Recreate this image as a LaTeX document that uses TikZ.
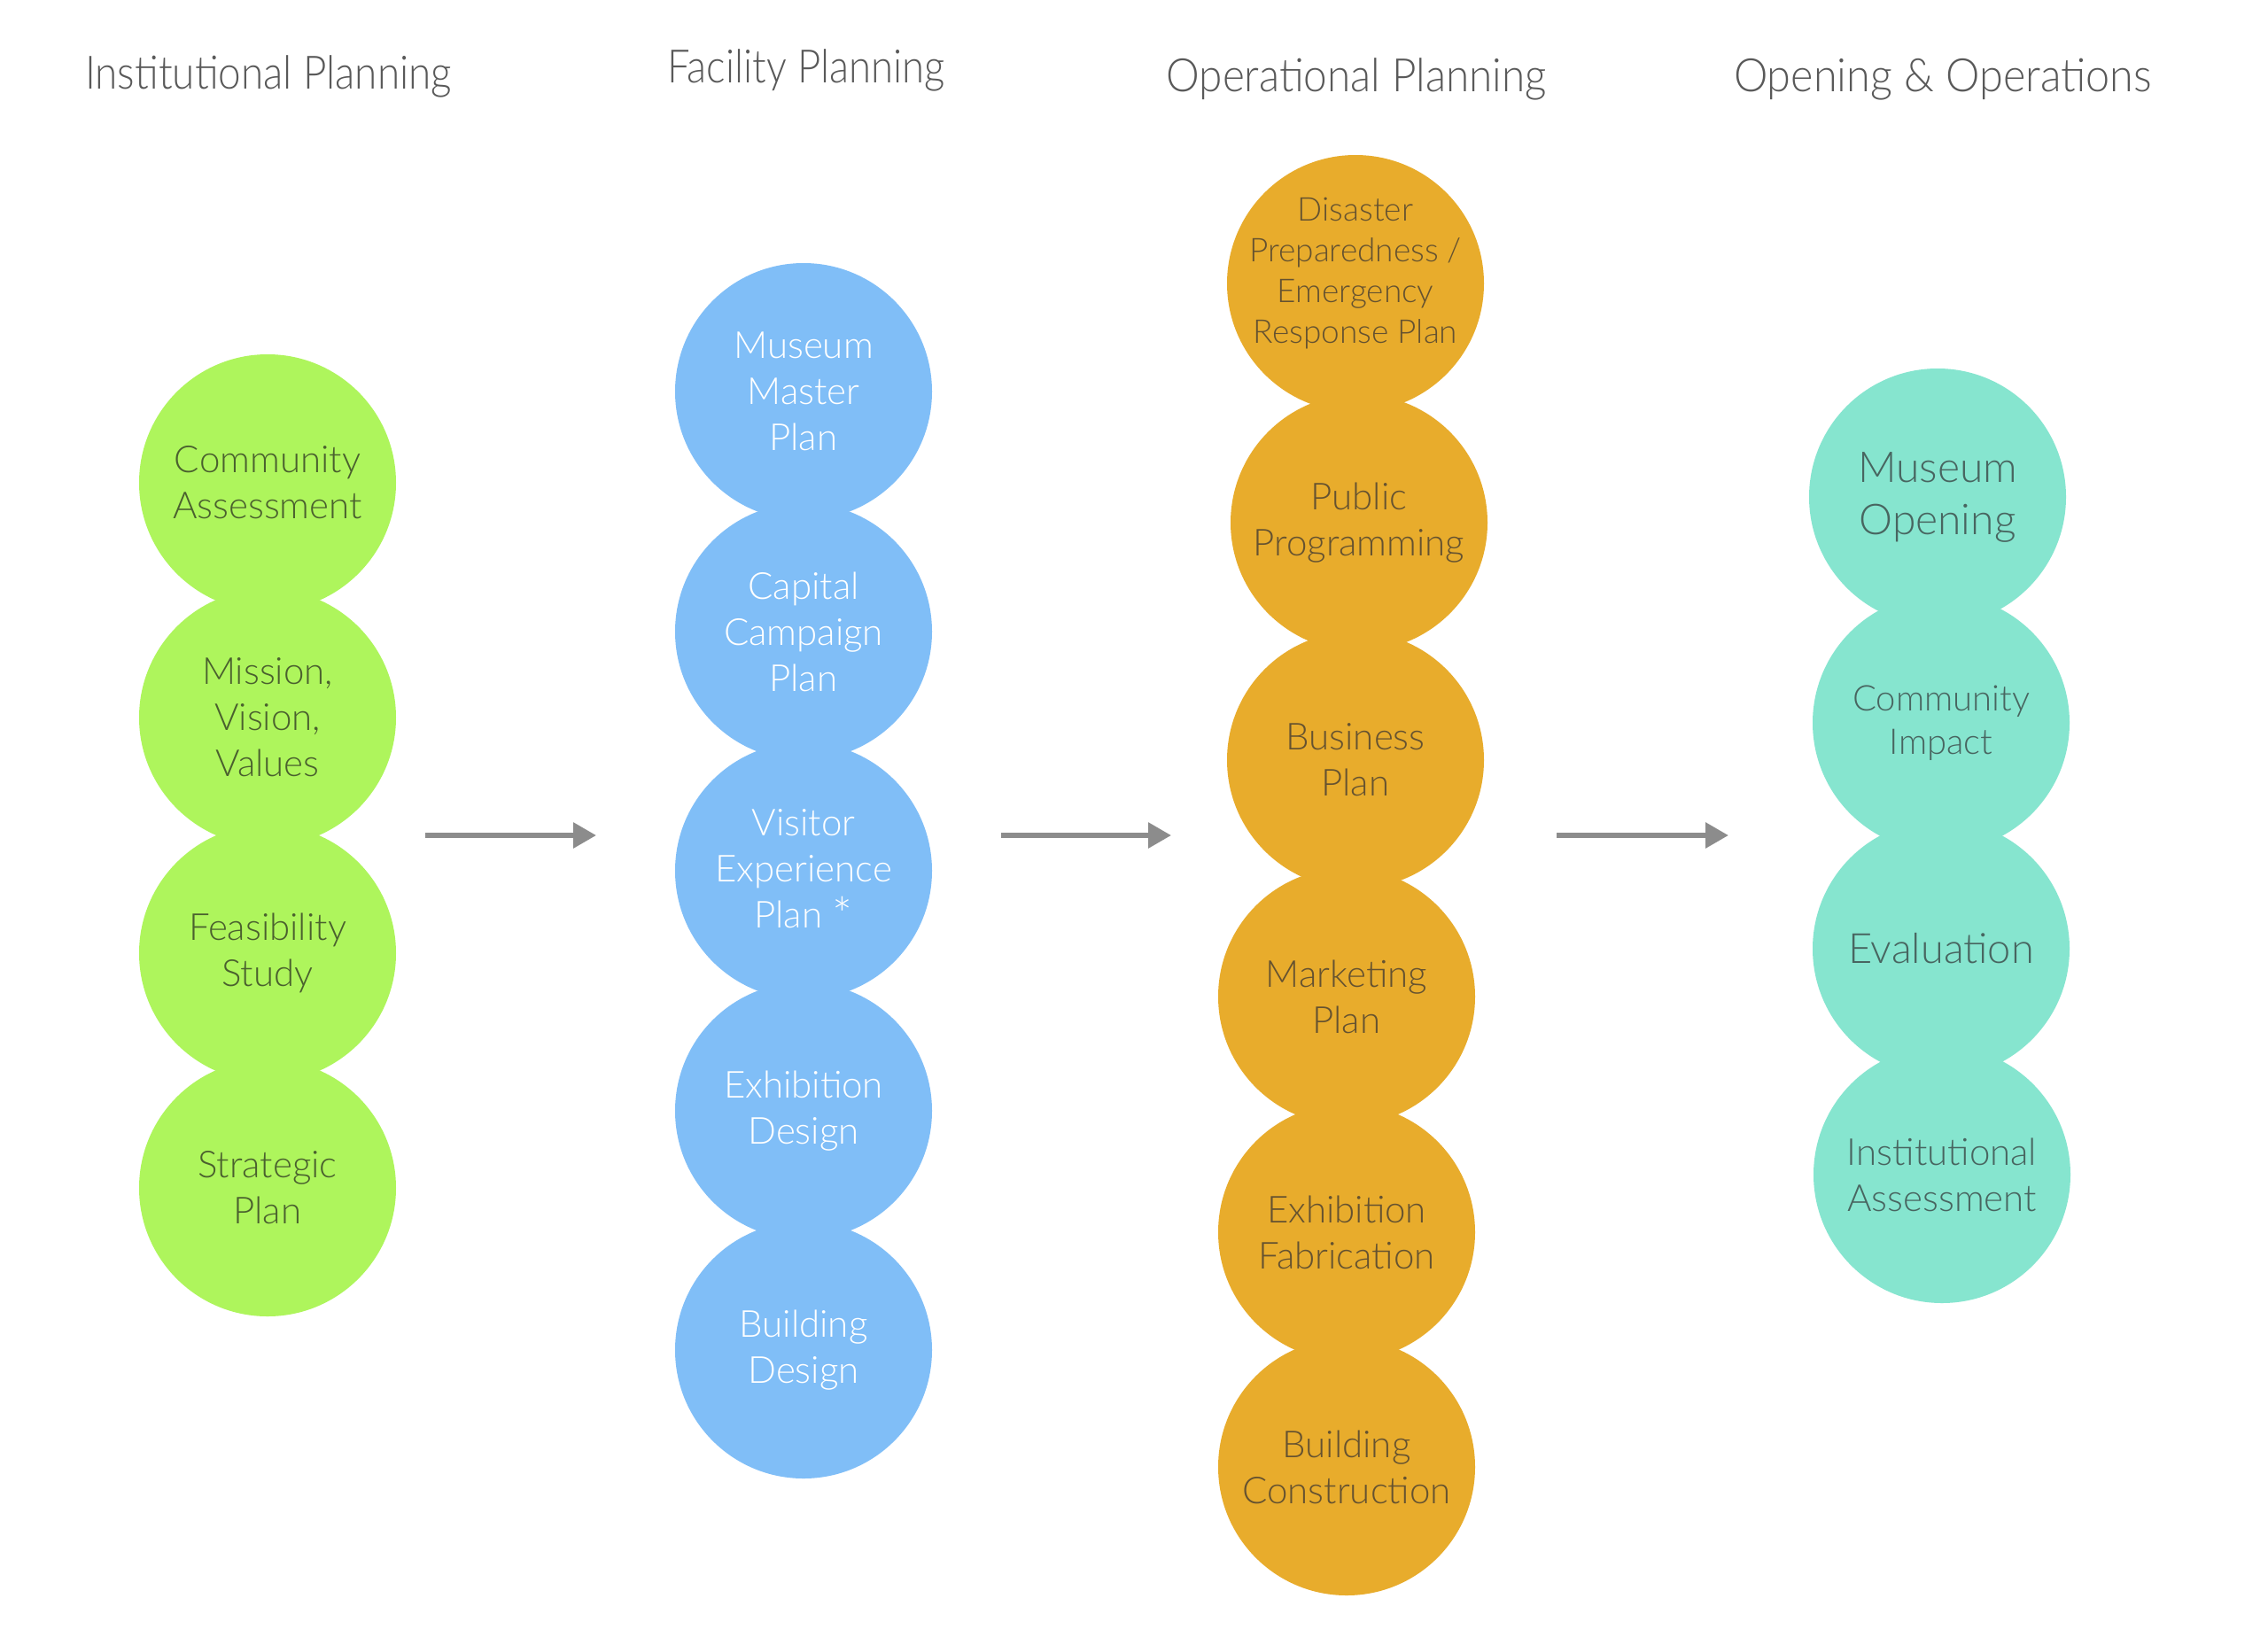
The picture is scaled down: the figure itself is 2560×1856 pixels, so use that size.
\documentclass[tikz,border=0pt]{standalone}
\usepackage{fontspec}
\usepackage{graphicx}
\setmainfont{Lato Light}
\usetikzlibrary{arrows.meta}
\definecolor{gfill}{HTML}{AEF55C}
\definecolor{gtext}{HTML}{4A602E}
\definecolor{bfill}{HTML}{80BEF7}
\definecolor{ofill}{HTML}{E8AC2C}
\definecolor{otext}{HTML}{655230}
\definecolor{tfill}{HTML}{86E5CF}
\definecolor{ttext}{HTML}{486560}
\definecolor{titlec}{HTML}{595959}
\definecolor{arrowc}{HTML}{8C8C8C}
\tikzset{
  bubble/.style={circle, minimum size=290pt, inner sep=0pt, align=center,
    font=\fontsize{42}{52}\selectfont},
  gbub/.style={bubble, fill=gfill, text=gtext},
  bbub/.style={bubble, fill=bfill, text=white},
  obub/.style={bubble, fill=ofill, text=otext},
  tbub/.style={bubble, fill=tfill, text=ttext},
  otxt/.style={inner sep=0pt, align=center, text=otext},
  phase/.style={anchor=base, text=titlec, inner sep=0pt, font=\fontsize{52}{60}\selectfont},
  flow/.style={draw=arrowc, line width=6pt, -{Triangle[length=26pt,width=28pt]}}
}
\begin{document}
\begin{tikzpicture}[x=1pt,y=-1pt]
\fill[white] (0,0) rectangle (2560,1856);
% titles
\node[phase] (t1) at (303,100) {\resizebox{414pt}{\height}{Institutional Planning}};
\node[phase] (t2) at (910,93) {\resizebox{313pt}{\height}{Facility Planning}};
\node[phase] (t3) at (1531,103) {\resizebox{429pt}{\height}{Operational Planning}};
\node[phase] (t4) at (2193,103) {\resizebox{472pt}{\height}{Opening \& Operations}};
% green column
\node[gbub] (g1) at (302,545) {Community\\Assessment};
\node[gbub] (g2) at (302,810) {Mission,\\Vision,\\Values};
\node[gbub] (g3) at (302,1076) {Feasibility\\Study};
\node[gbub] (g4) at (302,1341) {Strategic\\Plan};
% blue column
\node[bbub] (b1) at (907,442) {Museum\\Master\\Plan};
\node[bbub] (b2) at (907,713) {Capital\\Campaign\\Plan};
\node[bbub] (b3) at (907,983) {Visitor\\Experience\\Plan \raisebox{-0.12em}{\fontsize{54}{52}\selectfont *}};
\node[bbub] (b4) at (907,1254) {Exhibition\\Design};
\node[bbub] (b5) at (907,1524) {Building\\Design};
% orange column
\node[obub] (o1) at (1530,320) {};
\node[otxt, font=\fontsize{37}{46}\selectfont] (o1t) at ([yshift=11pt]o1.center) {Disaster\\Preparedness /\\Emergency\\Response Plan};
\node[obub] (o2) at (1534,590) {Public\\Programming};
\node[obub] (o3) at (1530,858) {Business\\Plan};
\node[obub] (o4) at (1520,1125) {Marketing\\Plan};
\node[obub] (o5) at (1520,1391) {Exhibition\\Fabrication};
\node[obub] (o6) at (1520,1656) {Building\\Construction};
% teal column
\node[tbub, font=\fontsize{48}{59}\selectfont] (c1) at (2187,561) {Museum\\Opening};
\node[tbub, font=\fontsize{40}{49}\selectfont] (c2) at (2191,816) {Community\\Impact};
\node[tbub, font=\fontsize{47}{59}\selectfont] (c3) at (2191,1071) {Evaluation};
\node[tbub] (c4) at (2192,1326) {Institutional\\Assessment};
% arrows
\coordinate (a1s) at (480,943); \coordinate (a1e) at (673,943);
\coordinate (a2s) at (1130,943); \coordinate (a2e) at (1322,943);
\coordinate (a3s) at (1757,943); \coordinate (a3e) at (1951,943);
\draw[flow] (a1s) -- (a1e);
\draw[flow] (a2s) -- (a2e);
\draw[flow] (a3s) -- (a3e);
\end{tikzpicture}
\end{document}
